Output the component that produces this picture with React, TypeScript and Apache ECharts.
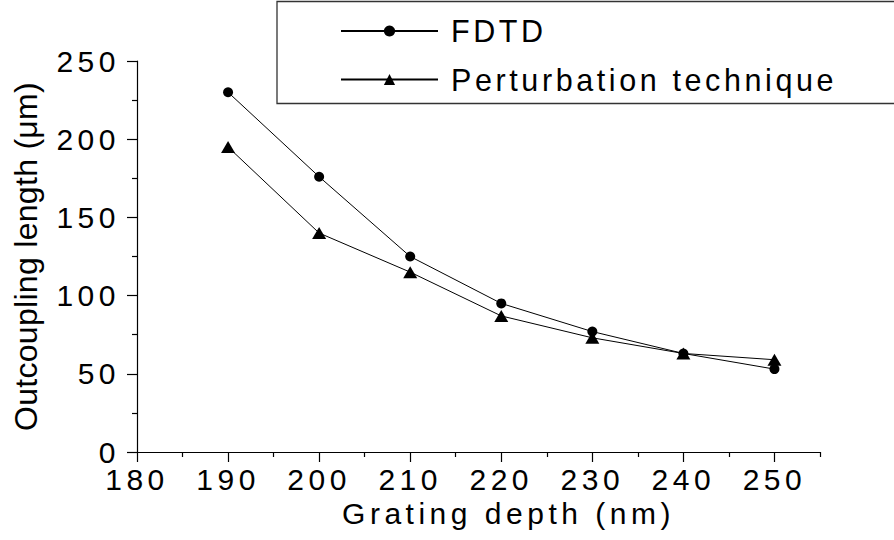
import React, { useEffect, useRef } from 'react';
import * as echarts from 'echarts';

const depths = [190, 200, 210, 220, 230, 240, 250];
const fdtd = [230, 176, 125, 95, 77, 63, 53];
const perturbation = [195, 140, 115, 87, 73, 63, 59];
const seriesNames = ['FDTD', 'Perturbation technique'];
const xMajorTicks = [180, 190, 200, 210, 220, 230, 240, 250];
const xMinorTicks = [185, 195, 205, 215, 225, 235, 245, 255];
const xTitle = 'Grating depth (nm)';
const yTitle = 'Outcoupling length (\u03bcm)';

const FONT = 'Liberation Sans';

export default function App() {
  const ref = useRef<HTMLDivElement>(null);
  useEffect(() => {
    if (!ref.current) return;
    const chart = echarts.init(ref.current, null, { renderer: 'svg' });
    const black = '#000';
    chart.setOption({
      animation: false,
      backgroundColor: '#fff',
      grid: { left: 137, right: 74, top: 61, bottom: 88, containLabel: false },
      legend: {
        orient: 'vertical',
        left: 277,
        top: 1.5,
        padding: [14, 220, 8.5, 63],
        itemGap: 17.5,
        itemWidth: 97,
        itemHeight: 14,
        borderColor: '#333',
        borderWidth: 1.3,
        data: seriesNames,
        textStyle: { fontSize: 30.5, color: black, fontFamily: FONT, padding: [0, 0, 0, 8] },
      },
      xAxis: [
        {
          type: 'value',
          min: 180,
          max: 255,
          interval: 10,
          name: xTitle,
          nameLocation: 'middle',
          nameGap: 45,
          nameTextStyle: { fontSize: 30, color: black, fontFamily: FONT, padding: [0, 0, 0, 60] },
          axisLine: { show: true, onZero: false, lineStyle: { color: black, width: 1.2 } },
          axisTick: { show: true, length: 10, customValues: xMajorTicks, lineStyle: { color: black, width: 1.2 } },
          axisLabel: { customValues: xMajorTicks, fontSize: 30, color: black, fontFamily: FONT, margin: 12 },
          splitLine: { show: false },
        },
        {
          type: 'value',
          min: 180,
          max: 255,
          position: 'bottom',
          axisLine: { show: false, onZero: false },
          axisTick: { show: true, length: 5, customValues: xMinorTicks, lineStyle: { color: black, width: 1.2 } },
          axisLabel: { show: false },
          splitLine: { show: false },
        },
      ],
      yAxis: {
        type: 'value',
        min: 0,
        max: 250,
        interval: 50,
        name: yTitle,
        nameLocation: 'middle',
        nameGap: 95,
        nameTextStyle: { fontSize: 32, color: black, fontFamily: FONT },
        axisLine: { show: true, lineStyle: { color: black, width: 1.2 } },
        axisTick: { show: true, length: 10, lineStyle: { color: black, width: 1.2 } },
        minorTick: { show: true, splitNumber: 2, length: 5, lineStyle: { color: black, width: 1.2 } },
        axisLabel: { fontSize: 30, color: black, fontFamily: FONT, margin: 17 },
        splitLine: { show: false },
      },
      series: [
        {
          name: seriesNames[0],
          type: 'line',
          data: depths.map((d, i) => [d, fdtd[i]]),
          symbol: 'circle',
          symbolSize: 10,
          lineStyle: { color: black, width: 1 },
          itemStyle: { color: black },
        },
        {
          name: seriesNames[1],
          type: 'line',
          data: depths.map((d, i) => [d, perturbation[i]]),
          symbol: 'triangle',
          symbolSize: [14, 12],
          lineStyle: { color: black, width: 1 },
          itemStyle: { color: black },
        },
      ],
    });
    return () => chart.dispose();
  }, []);
  return (
    <>
      <style>{`#chartbox text[style*="32px"] { letter-spacing: 0.3px; } #chartbox text[style*="30.5px"] { letter-spacing: 3.6px; }`}</style>
      <div
        id="chartbox"
        ref={ref}
        style={{ position: 'fixed', left: 0, top: 0, width: 894, height: 540, letterSpacing: '4.5px', background: '#fff' }}
      />
    </>
  );
}
